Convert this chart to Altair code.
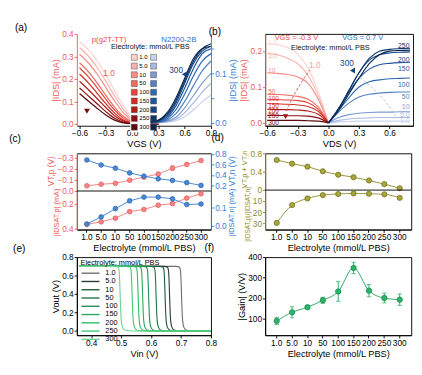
import altair as alt
import pandas as pd

FONT = "Liberation Sans"
RED_AX = "#f05a5a"
BLUE_AX = "#2f80d1"
OLIVE = "#8b8b26"

concs = ["1.0", "5.0", "10", "50", "100", "150", "200", "250", "300"]

reds = ["#fbd3d0", "#f9b2ac", "#f58e86", "#f06a5f", "#e8453a", "#d42b22", "#b31b17", "#8a0f12", "#5c0a0d"]
blues = ["#c9d3ee", "#a9b9e2", "#7f9bd2", "#5481c3", "#2e69b3", "#1d579e", "#154684", "#0f3669", "#0a264b"]
greens = ["#6e6e6e", "#2f3a33", "#1c5a39", "#1f7546", "#239052", "#29a95e", "#31bd69", "#3ccb75", "#6ad690"]

# ---------------- (a) transfer curves ----------------
a_vgs_p = [-0.6, -0.5, -0.4, -0.3, -0.2, -0.1, 0.0, 0.1, 0.2, 0.3]
a_ids_p = {
    "1.0": [0.365, 0.330, 0.282, 0.218, 0.148, 0.082, 0.032, 0.009, 0.002, 0.0],
    "5.0": [0.340, 0.302, 0.252, 0.190, 0.125, 0.066, 0.023, 0.005, 0.001, 0.0],
    "10":  [0.310, 0.272, 0.222, 0.162, 0.102, 0.050, 0.015, 0.003, 0.0, 0.0],
    "50":  [0.272, 0.233, 0.183, 0.127, 0.075, 0.034, 0.009, 0.001, 0.0, 0.0],
    "100": [0.250, 0.210, 0.162, 0.110, 0.062, 0.026, 0.006, 0.001, 0.0, 0.0],
    "150": [0.222, 0.183, 0.137, 0.090, 0.048, 0.018, 0.004, 0.0, 0.0, 0.0],
    "200": [0.190, 0.153, 0.113, 0.073, 0.037, 0.013, 0.003, 0.0, 0.0, 0.0],
    "250": [0.160, 0.125, 0.090, 0.055, 0.025, 0.008, 0.001, 0.0, 0.0, 0.0],
    "300": [0.135, 0.102, 0.070, 0.040, 0.017, 0.005, 0.001, 0.0, 0.0, 0.0],
}
a_vgs_n = [0.0, 0.1, 0.2, 0.3, 0.4, 0.5, 0.6, 0.7, 0.8, 0.9]
a_ids_n = {
    "1.0": [0, 0, 0, 0.0, 0.001, 0.004, 0.012, 0.026, 0.042, 0.056],
    "5.0": [0, 0, 0, 0.0, 0.002, 0.007, 0.020, 0.040, 0.062, 0.080],
    "10":  [0, 0, 0, 0.001, 0.003, 0.011, 0.030, 0.055, 0.080, 0.100],
    "50":  [0, 0, 0, 0.001, 0.005, 0.018, 0.043, 0.075, 0.105, 0.125],
    "100": [0, 0, 0, 0.001, 0.008, 0.026, 0.058, 0.095, 0.125, 0.140],
    "150": [0, 0, 0, 0.002, 0.011, 0.034, 0.070, 0.110, 0.140, 0.150],
    "200": [0, 0, 0, 0.003, 0.014, 0.040, 0.080, 0.120, 0.145, 0.155],
    "250": [0, 0, 0.001, 0.004, 0.017, 0.045, 0.085, 0.125, 0.150, 0.160],
    "300": [0, 0, 0.001, 0.005, 0.020, 0.050, 0.090, 0.130, 0.150, 0.155],
}

# ---------------- (b) output curves ----------------
b_vds_p = [-0.6, -0.5, -0.4, -0.3, -0.2, -0.1, 0.0]
b_ids_p = {
    "1.0": [0.222, 0.218, 0.210, 0.192, 0.152, 0.088, 0.0],
    "5.0": [0.195, 0.190, 0.180, 0.165, 0.132, 0.076, 0.0],
    "10":  [0.140, 0.138, 0.135, 0.128, 0.110, 0.066, 0.0],
    "50":  [0.080, 0.079, 0.077, 0.074, 0.066, 0.045, 0.0],
    "100": [0.066, 0.065, 0.064, 0.062, 0.056, 0.038, 0.0],
    "150": [0.054, 0.053, 0.052, 0.050, 0.046, 0.032, 0.0],
    "200": [0.038, 0.037, 0.037, 0.036, 0.033, 0.024, 0.0],
    "250": [0.021, 0.021, 0.020, 0.020, 0.019, 0.014, 0.0],
    "300": [0.007, 0.007, 0.007, 0.007, 0.006, 0.005, 0.0],
}
b_vds_n = [0.0, 0.1, 0.2, 0.3, 0.4, 0.5, 0.6, 0.7, 0.8]
b_ids_n = {
    "1.0": [0, 0.003, 0.004, 0.005, 0.005, 0.005, 0.005, 0.005, 0.005],
    "5.0": [0, 0.007, 0.011, 0.013, 0.014, 0.015, 0.015, 0.015, 0.015],
    "10":  [0, 0.015, 0.023, 0.027, 0.029, 0.030, 0.030, 0.031, 0.031],
    "50":  [0, 0.030, 0.055, 0.072, 0.080, 0.083, 0.085, 0.086, 0.086],
    "100": [0, 0.035, 0.070, 0.100, 0.115, 0.120, 0.123, 0.124, 0.125],
    "150": [0, 0.040, 0.085, 0.125, 0.150, 0.162, 0.166, 0.168, 0.169],
    "200": [0, 0.040, 0.090, 0.140, 0.175, 0.190, 0.195, 0.197, 0.198],
    "250": [0, 0.040, 0.090, 0.140, 0.180, 0.200, 0.205, 0.207, 0.208],
    "300": [0, 0.035, 0.080, 0.125, 0.165, 0.190, 0.200, 0.202, 0.203],
}
b_lab_p = [0.223, 0.185, 0.144, 0.086, 0.066, 0.048, 0.033, 0.018, 0.000]
b_lab_n = [0.005, 0.021, 0.043, 0.071, 0.106, 0.149, 0.175, 0.213]

# ---------------- (c) thresholds / saturation currents ----------------
c_vtp = [-0.047, -0.061, -0.069, -0.097, -0.125, -0.153, -0.206, -0.240, -0.275]
c_vtp_err = [0.005, 0.005, 0.006, 0.008, 0.006, 0.008, 0.022, 0.008, 0.010]
c_vtn = [0.685, 0.590, 0.530, 0.440, 0.380, 0.330, 0.300, 0.257, 0.205]
c_vtn_err = [0.010, 0.010, 0.010, 0.012, 0.010, 0.010, 0.015, 0.010, 0.010]
c_idp = [0.363, 0.344, 0.315, 0.263, 0.246, 0.212, 0.200, 0.156, 0.122]
c_idp_err = [0.005, 0.006, 0.006, 0.008, 0.006, 0.006, 0.008, 0.008, 0.008]
c_idn = [0.012, 0.050, 0.095, 0.137, 0.157, 0.157, 0.148, 0.117, 0.120]
c_idn_err = [0.004, 0.006, 0.006, 0.006, 0.005, 0.006, 0.005, 0.006, 0.005]

# ---------------- (d) ----------------
d_sum = [0.655, 0.575, 0.510, 0.410, 0.335, 0.280, 0.210, 0.130, 0.040]
d_sum_err = [0.01, 0.01, 0.01, 0.01, 0.01, 0.01, 0.01, 0.01, 0.02]
d_ratio = [29.5, 13.5, 7.5, 4.5, 3.5, 3.0, 3.3, 3.8, 7.0]
d_ratio_err = [0.8, 0.6, 0.5, 0.4, 0.4, 0.4, 0.4, 0.4, 0.5]

# ---------------- (e) inverter transfer ----------------
e_vout = [0.700, 0.700, 0.697, 0.688, 0.655, 0.540, 0.340, 0.170, 0.070, 0.025, 0.008, 0.001, 0.000]
e_vin = {
    "1.0": [0.36, 0.680, 0.690, 0.695, 0.698, 0.700, 0.702, 0.704, 0.707, 0.712, 0.720, 0.740, 0.80],
    "5.0": [0.36, 0.640, 0.650, 0.655, 0.658, 0.660, 0.662, 0.664, 0.667, 0.672, 0.680, 0.700, 0.80],
    "10":  [0.36, 0.625, 0.635, 0.640, 0.643, 0.645, 0.647, 0.649, 0.652, 0.657, 0.665, 0.685, 0.80],
    "50":  [0.36, 0.595, 0.605, 0.610, 0.613, 0.615, 0.617, 0.619, 0.622, 0.627, 0.635, 0.655, 0.80],
    "100": [0.36, 0.570, 0.580, 0.585, 0.588, 0.590, 0.592, 0.594, 0.597, 0.602, 0.610, 0.630, 0.80],
    "150": [0.36, 0.550, 0.560, 0.565, 0.568, 0.570, 0.572, 0.574, 0.577, 0.582, 0.590, 0.610, 0.80],
    "200": [0.36, 0.535, 0.545, 0.550, 0.553, 0.555, 0.557, 0.559, 0.562, 0.567, 0.575, 0.595, 0.80],
    "250": [0.36, 0.515, 0.525, 0.530, 0.533, 0.535, 0.537, 0.539, 0.542, 0.547, 0.555, 0.575, 0.80],
    "300": [0.36, 0.475, 0.485, 0.490, 0.493, 0.495, 0.497, 0.499, 0.502, 0.507, 0.515, 0.535, 0.80],
}

# ---------------- (f) gain ----------------
f_gain = [88, 130, 155, 189, 232, 347, 236, 200, 192]
f_gain_err = [18, 27, 8, 15, 48, 28, 30, 24, 28]


# ======================= helpers =======================
def long_df(xs, table, key):
    rows = []
    for c in concs:
        for xv, yv in zip(xs, table[c]):
            rows.append({key: c, "x": xv, "y": yv})
    return pd.DataFrame(rows)


def axis(color="black", **kw):
    d = dict(domainColor=color, tickColor=color, labelColor=color, titleColor=color,
             labelOverlap=False, labelFlush=False, grid=False)
    d.update(kw)
    return alt.Axis(**d)


def ptitle(text, dx, dy):
    return alt.TitleParams(text=text, anchor="start", dx=dx, dy=dy, offset=0,
                           fontSize=11, fontWeight="normal", font=FONT, color="black")


def texts(df, X, Y, color, size=8, align="center"):
    return alt.Chart(df).mark_text(color=color, fontSize=size, align=align, baseline="middle",
                                   font=FONT).encode(x=X, y=Y, text="t:N")


def marker(df, X, Y, shape, color, size=40):
    return alt.Chart(df).mark_point(shape=shape, filled=True, size=size, color=color, opacity=1).encode(x=X, y=Y)


def series_df(vals, errs):
    return pd.DataFrame({"conc": concs, "val": vals,
                         "lo": [v - e for v, e in zip(vals, errs)],
                         "hi": [v + e for v, e in zip(vals, errs)]})


def series(df, xsc, xaxis, ysc, yaxis, color, fill, stroke, smooth=False, size=26, cap=4, divider=False):
    X = alt.X("conc:O", scale=xsc, axis=xaxis)

    def Y(f):
        return alt.Y(f"{f}:Q", scale=ysc, axis=yaxis)

    line = alt.Chart(df).mark_line(color=color, strokeWidth=1,
                                   interpolate="monotone" if smooth else "linear").encode(x=X, y=Y("val"))
    bar = alt.Chart(df).mark_rule(color=color, strokeWidth=1).encode(x=X, y=Y("lo"), y2=alt.Y2("hi"))
    caps = alt.Chart(df).transform_fold(["lo", "hi"], as_=["k", "cv"]).mark_tick(
        color=color, thickness=1, size=cap).encode(x=X, y=Y("cv"))
    pts = alt.Chart(df).mark_circle(size=size, color=fill, stroke=stroke, strokeWidth=0.8, opacity=1).encode(
        x=X, y=Y("val"))
    layers = [line, bar, caps, pts]
    if divider:
        layers.append(alt.Chart(pd.DataFrame({"val": [0.0]})).mark_rule(color="black", strokeWidth=1).encode(
            y=Y("val")))
    return alt.layer(*layers)


red_sc = alt.Scale(domain=concs, range=reds)
blue_sc = alt.Scale(domain=concs, range=blues)
green_sc = alt.Scale(domain=concs, range=greens)

# ======================= panel (a) =======================
xa = alt.Scale(domain=[-0.63, 0.9], nice=False, zero=False)
ya_r = alt.Scale(domain=[-0.008, 0.4], nice=False, zero=False)
ya_b = alt.Scale(domain=[-0.0065, 0.18], nice=False, zero=False)
XA = alt.X("x:Q", scale=xa, axis=axis(values=[-0.6, -0.3, 0, 0.3, 0.6, 0.9], format=".1f", title="VGS (V)"))
YA_R = alt.Y("y:Q", scale=ya_r, axis=axis(RED_AX, orient="left", values=[0, 0.1, 0.2, 0.3, 0.4],
                                          format=".1f", title="|IDS| (mA)"))
YA_B = alt.Y("y:Q", scale=ya_b, axis=axis(BLUE_AX, orient="right", values=[0, 0.05, 0.1, 0.15], format=".1f",
                                          labelExpr="datum.value == 0 || datum.value == 0.1 ? datum.label : ''",
                                          title="|IDS| (mA)", titleAngle=270, titleBaseline="top"))

a_red = alt.Chart(long_df(a_vgs_p, a_ids_p, "cp")).mark_line(strokeWidth=1.3, interpolate="monotone").encode(
    x=XA, y=YA_R, stroke=alt.Stroke("cp:N", scale=red_sc, legend=None))
a_red_group = alt.layer(
    a_red,
    texts(pd.DataFrame({"x": [-0.263], "y": [0.3755], "t": ["p(g2T-TT)"]}), XA, YA_R, "#f04a4a", 8.5),
    texts(pd.DataFrame({"x": [-0.263], "y": [0.2246], "t": ["1.0"]}), XA, YA_R, "#ee5a55", 9),
    texts(pd.DataFrame({"x": [0.533], "y": [0.3755], "t": ["N2200-2B"]}), XA, YA_R, "#2f6fc2", 8.5),
    texts(pd.DataFrame({"x": [0.208], "y": [0.343], "t": ["Electrolyte: mmol/L PBS"]}), XA, YA_R, "#111111", 8),
    marker(pd.DataFrame({"x": [-0.515], "y": [0.057]}), XA, YA_R, "triangle-down", "#7a0c12", 40),
)
a_blue = alt.Chart(long_df(a_vgs_n, a_ids_n, "cn")).mark_line(strokeWidth=1.3, interpolate="monotone").encode(
    x=XA, y=YA_B, stroke=alt.Stroke("cn:N", scale=blue_sc, legend=None))
a_blue_group = alt.layer(
    a_blue,
    texts(pd.DataFrame({"x": [0.502], "y": [0.107], "t": ["300"]}), XA, YA_B, "#1d3f78", 9),
    marker(pd.DataFrame({"x": [0.596], "y": [0.098]}), XA, YA_B, "triangle-left", "#1d3f78", 40),
)
leg_df = pd.DataFrame({"c": concs})
a_leg_r = alt.Chart(leg_df).transform_filter("false").mark_square().encode(
    fill=alt.Fill("c:N", scale=red_sc, legend=alt.Legend(
        orient="none", legendX=58, legendY=21, title=None, symbolType="square", symbolSize=42,
        labelFontSize=6.5, labelFont=FONT, rowPadding=0.5, padding=1, fillColor="white", labelOffset=2,
        symbolStrokeColor="#444444", symbolStrokeWidth=0.5, symbolOpacity=1)))
a_leg_b = alt.Chart(leg_df).transform_filter("false").mark_square().encode(
    fill=alt.Fill("c:N", scale=blue_sc, legend=alt.Legend(
        orient="none", legendX=79, legendY=21, title=None, symbolType="square", symbolSize=42,
        labelFontSize=6.5, rowPadding=0.5, padding=1, labelExpr="''", labelOffset=0,
        symbolStrokeColor="#444444", symbolStrokeWidth=0.5, symbolOpacity=1)))
panel_a = alt.layer(a_red_group, a_blue_group, a_leg_r, a_leg_b).resolve_scale(
    y="independent", stroke="independent", fill="independent").properties(
    width=146, height=100, title=ptitle("(a)", -39, 3), view=alt.ViewBackground(stroke=None))

# ======================= panel (b) =======================
xb = alt.Scale(domain=[-0.62, 0.83], nice=False, zero=False)
yb = alt.Scale(domain=[-0.008, 0.248], nice=False, zero=False)
XB = alt.X("x:Q", scale=xb, axis=axis(values=[-0.6, -0.3, 0, 0.3, 0.6], format=".1f", title="VDS (V)"))
YB = alt.Y("y:Q", scale=yb, axis=axis(RED_AX, values=[0, 0.1, 0.2], format=".1f", title="|IDS| (mA)"))

b_red = alt.Chart(long_df(b_vds_p, b_ids_p, "cp")).mark_line(strokeWidth=1.2, interpolate="monotone").encode(
    x=XB, y=YB, stroke=alt.Stroke("cp:N", scale=red_sc, legend=None))
b_red_lab = alt.Chart(pd.DataFrame({"cp": concs, "x": [-0.6] * 9, "y": b_lab_p, "t": concs})).mark_text(
    align="left", baseline="middle", fontSize=7, dx=1, font=FONT).encode(
    x=XB, y=YB, text="t:N", color=alt.Color("cp:N", scale=red_sc, legend=None))
b_blue = alt.Chart(long_df(b_vds_n, b_ids_n, "cn")).mark_line(strokeWidth=1.2, interpolate="monotone").encode(
    x=XB, y=YB, stroke=alt.Stroke("cn:N", scale=blue_sc, legend=None))
b_blue_lab = alt.Chart(pd.DataFrame({"cn": concs[:8], "x": [0.795] * 8, "y": b_lab_n, "t": concs[:8]})).mark_text(
    align="right", baseline="middle", fontSize=7.5, font=FONT).encode(
    x=XB, y=YB, text="t:N", color=alt.Color("cn:N", scale=blue_sc, legend=None))
b_arc_r = alt.Chart(pd.DataFrame({"x": [-0.413, -0.359, -0.278, -0.179], "y": [0.033, 0.066, 0.107, 0.148]})).mark_line(
    color="#e05050", strokeDash=[3, 2], strokeWidth=1, interpolate="monotone").encode(x=XB, y=YB)
b_arc_b = alt.Chart(pd.DataFrame({"x": [0.272, 0.434, 0.569, 0.659], "y": [0.133, 0.097, 0.056, 0.020]})).mark_line(
    color="#bbbbbb", strokeDash=[3, 2], strokeWidth=1, interpolate="monotone").encode(x=XB, y=YB)
panel_b = alt.layer(
    alt.layer(b_red, b_red_lab),
    alt.layer(b_blue, b_blue_lab),
    b_arc_r, b_arc_b,
    texts(pd.DataFrame({"x": [-0.314], "y": [0.235], "t": ["VGS = -0.3 V"]}), XB, YB, "#f04a4a", 8),
    texts(pd.DataFrame({"x": [0.335], "y": [0.235], "t": ["VGS = 0.7 V"]}), XB, YB, "#2f6fc2", 8),
    texts(pd.DataFrame({"x": [0.019], "y": [0.207], "t": ["Electrolyte: mmol/L PBS"]}), XB, YB, "#111111", 8),
    texts(pd.DataFrame({"x": [-0.134], "y": [0.161], "t": ["1.0"]}), XB, YB, "#f3a09a", 9),
    texts(pd.DataFrame({"x": [0.182], "y": [0.166], "t": ["300"]}), XB, YB, "#1d3f78", 9),
    marker(pd.DataFrame({"x": [-0.42], "y": [0.0176]}), XB, YB, "triangle-down", "#a01418", 36),
    marker(pd.DataFrame({"x": [0.236], "y": [0.146]}), XB, YB, "triangle-left", "#1d3f78", 40),
).resolve_scale(stroke="independent", color="independent").properties(
    width=161, height=100, title=ptitle("(b)", -33, 3))

# ======================= panel (c) =======================
xc = alt.Scale(domain=concs, padding=0.4)
xc_axis = axis(title="Electrolyte (mmol/L PBS)", labelAngle=0)
c_tr = alt.Scale(domain=[-0.34, 0.0], range=[0, 41], nice=False, zero=False)
c_tb = alt.Scale(domain=[0.1, 0.81], range=[41, 0], nice=False, zero=False)
c_br = alt.Scale(domain=[0.1, 0.405], range=[41, 83], nice=False, zero=False)
c_bb = alt.Scale(domain=[-0.018, 0.19], range=[83, 41], nice=False, zero=False)
C_RED, C_RED_F, C_RED_S = "#f47c7c", "#f58585", "#e35a5a"
C_BLU, C_BLU_F, C_BLU_S = "#3f80cf", "#4a88d4", "#2a66b3"

panel_c = alt.layer(
    series(series_df(c_vtp, c_vtp_err), xc, xc_axis, c_tr,
           axis(RED_AX, orient="left", values=[0, -0.1, -0.2, -0.3], format=".1f", title="VT,p (V)",
                titleFontSize=9, titleY=19),
           C_RED, C_RED_F, C_RED_S, divider=True),
    series(series_df(c_vtn, c_vtn_err), xc, xc_axis, c_tb,
           axis(BLUE_AX, orient="right", values=[0.2, 0.4, 0.6, 0.8], format=".1f", title="VT,n (V)",
                titleFontSize=9, titleAngle=270, titleBaseline="top", titleY=19),
           C_BLU, C_BLU_F, C_BLU_S),
    series(series_df(c_idp, c_idp_err), xc, xc_axis, c_br,
           axis(RED_AX, orient="left", values=[0.2, 0.4], format=".1f", title="|IDSAT,p| (mA)",
                titleFontSize=8, titleY=64),
           C_RED, C_RED_F, C_RED_S),
    series(series_df(c_idn, c_idn_err), xc, xc_axis, c_bb,
           axis(BLUE_AX, orient="right", values=[0.0, 0.1], format=".1f", title="|IDSAT,n| (mA)",
                titleFontSize=8, titleAngle=270, titleBaseline="top", titleY=64),
           C_BLU, C_BLU_F, C_BLU_S),
).resolve_scale(y="independent").properties(width=146, height=83, title=ptitle("(c)", -41, -7))

# ======================= panel (d) =======================
xd = alt.Scale(domain=concs, padding=0.5)
xd_axis = axis(title="Electrolyte (mmol/L PBS)", labelAngle=0)
d_t = alt.Scale(domain=[0.0, 0.8], range=[40, 0], nice=False, zero=False)
d_b = alt.Scale(domain=[0.0, 35.5], range=[40, 83], nice=False, zero=False)
D_LINE, D_F, D_S = "#8f8f30", "#a6a63c", "#6e6e1c"
panel_d = alt.layer(
    series(series_df(d_sum, d_sum_err), xd, xd_axis, d_t,
           axis(OLIVE, orient="left", values=[0, 0.4, 0.8],
                labelExpr="datum.value == 0 ? '0' : format(datum.value, '.1f')",
                title="VT,p + VT,n", titleFontSize=8, titleY=17),
           D_LINE, D_F, D_S, smooth=True, size=32, divider=True),
    series(series_df(d_ratio, d_ratio_err), xd, xd_axis, d_b,
           axis(OLIVE, orient="left", values=[10, 20, 30], title="|IDSAT,p|/|IDSAT,n|",
                titleFontSize=7, titleY=66),
           D_LINE, D_F, D_S, smooth=True, size=32),
).resolve_scale(y="independent").properties(width=159, height=83, title=ptitle("(d)", -32, -7))

# ======================= panel (e) =======================
xe = alt.Scale(domain=[0.352, 0.8], nice=False, zero=False)
ye = alt.Scale(domain=[-0.045, 0.8], nice=False, zero=False)
e_rows = []
for c in concs:
    for vi, vo in zip(e_vin[c], e_vout):
        e_rows.append({"ce": c, "x": vi, "y": vo})
panel_e = alt.Chart(pd.DataFrame(e_rows)).mark_line(strokeWidth=1.2, interpolate="monotone").encode(
    x=alt.X("x:Q", scale=xe, axis=axis(values=[0.4, 0.5, 0.6, 0.7, 0.8], format=".1f", title="Vin (V)")),
    y=alt.Y("y:Q", scale=ye, axis=axis(values=[0, 0.2, 0.4, 0.6, 0.8], format=".1f", title="Vout (V)")),
    stroke=alt.Stroke("ce:N", scale=green_sc, legend=alt.Legend(
        orient="none", legendX=4, legendY=3, title="Electrolyte: mmol/L PBS", titleFontSize=8,
        titleFontWeight="normal", titleFont=FONT, labelFont=FONT, labelFontSize=8,
        symbolType="M-1,0H4.6", symbolSize=49, symbolStrokeWidth=1.5, rowPadding=0, padding=0,
        titlePadding=2, labelOffset=18)),
).properties(width=146, height=85, title=ptitle("(e)", -41, 0))

# ======================= panel (f) =======================
xf = alt.Scale(domain=concs, padding=0.5)
yf = alt.Scale(domain=[18, 400], nice=False, zero=False)
panel_f = series(series_df(f_gain, f_gain_err), xf, axis(title="Electrolyte (mmol/L PBS)", labelAngle=0), yf,
                 axis(values=[100, 200, 300, 400], format="d", title="|Gain| (V/V)"),
                 "#22a661", "#2db36a", "#148a48", smooth=True, size=34, cap=5).properties(
    width=159, height=85, title=ptitle("(f)", -35, -1))

chart = alt.concat(panel_a, panel_b, panel_c, panel_d, panel_e, panel_f, columns=2,
                   spacing=alt.RowColnumber(row=30, column=59), bounds="flush").resolve_scale(
    color="independent", stroke="independent", fill="independent").properties(
    padding={"left": 0, "top": 0, "right": 0, "bottom": 0}).configure(font=FONT).configure_axis(
    labelFontSize=9, titleFontSize=10, titleFontWeight="normal", tickSize=3, labelPadding=1,
    titlePadding=2, domainWidth=1, tickWidth=1, labelFont=FONT, titleFont=FONT).configure_view(
    stroke="black", strokeWidth=1).configure_legend(labelFont=FONT, titleFont=FONT)

chart.save("out.html", embed_options={"renderer": "svg", "actions": False})
